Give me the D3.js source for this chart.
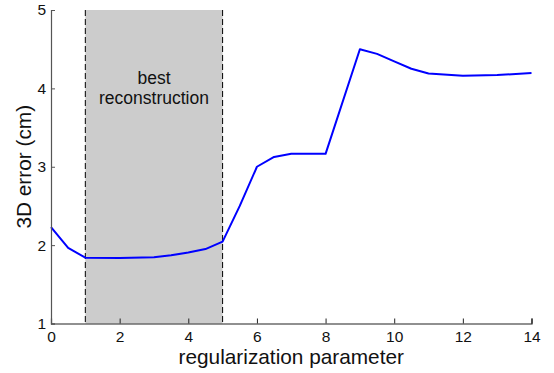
<!DOCTYPE html>
<html>
<head>
<meta charset="utf-8">
<script src="https://cdn.jsdelivr.net/npm/d3@7"></script>
<style>
  body { margin: 0; background: #fff; }
  svg { display: block; font-family: "Liberation Sans", Arial, Helvetica, sans-serif; }
</style>
</head>
<body>
<svg id="chart" width="554" height="373"></svg>
<script>
// Regularization sweep: 3D reconstruction error per parameter value
const params = [0, 0.5, 1, 2, 3, 3.5, 4, 4.5, 5, 5.5, 6, 6.5, 7, 8, 9, 9.5, 10, 10.5, 11, 12, 13, 14];
const errors = [2.23, 1.965, 1.84, 1.837, 1.845, 1.87, 1.905, 1.95, 2.045, 2.5, 3.0, 3.125, 3.165, 3.165, 4.5, 4.44, 4.345, 4.25, 4.19, 4.16, 4.17, 4.195];
const xTicks = [0, 2, 4, 6, 8, 10, 12, 14];
const yTicks = [1, 2, 3, 4, 5];
const bestRange = [1, 5];
const bestLabel = ["best", "reconstruction"];

const FONT = "Liberation Sans, Arial, Helvetica, sans-serif";
const svg = d3.select("#chart");
const x = d3.scaleLinear().domain([0, 14]).range([51, 531.5]);
const y = d3.scaleLinear().domain([1, 5]).range([323.5, 10]);

// shaded band for the best range
svg.append("rect")
  .attr("x", x(bestRange[0])).attr("y", y(5))
  .attr("width", x(bestRange[1]) - x(bestRange[0]))
  .attr("height", y(1) - y(5))
  .attr("fill", "#cccccc");

svg.selectAll("line.bound").data(bestRange).enter().append("line")
  .attr("class", "bound")
  .attr("x1", d => x(d)).attr("x2", d => x(d))
  .attr("y1", y(5)).attr("y2", y(1))
  .attr("stroke", "#000").attr("stroke-width", 1)
  .attr("stroke-dasharray", "6,3");

svg.append("text")
  .attr("text-anchor", "middle")
  .attr("font-size", 17.5).attr("fill", "#111")
  .selectAll("tspan").data(bestLabel).enter().append("tspan")
  .attr("x", x((bestRange[0] + bestRange[1]) / 2))
  .attr("y", (d, i) => 84 + i * 19.5)
  .text(d => d);

// error curve
svg.append("path")
  .datum(params.map((p, i) => [p, errors[i]]))
  .attr("fill", "none")
  .attr("stroke", "#0000ff")
  .attr("stroke-width", 2)
  .attr("stroke-linejoin", "round")
  .attr("d", d3.line().x(d => x(d[0])).y(d => y(d[1])));

// axes with inward ticks
const xAxis = svg.append("g")
  .attr("transform", `translate(0,${y(1)})`)
  .call(d3.axisBottom(x).tickValues(xTicks).tickSize(-5).tickPadding(7).tickFormat(d3.format("d")));
xAxis.select(".domain").attr("stroke", "#222").attr("stroke-width", 1.2);
xAxis.selectAll(".tick line").attr("stroke", "#222");
xAxis.selectAll("text").attr("font-size", 15.5).attr("fill", "#111").attr("font-family", FONT);

const yAxis = svg.append("g")
  .attr("transform", `translate(${x(0)},0)`)
  .call(d3.axisLeft(y).tickValues(yTicks).tickSize(-4).tickPadding(5).tickFormat(d3.format("d")));
yAxis.select(".domain").attr("stroke", "#555").attr("stroke-width", 1.2);
yAxis.selectAll(".tick line").attr("stroke", "#555");
yAxis.selectAll("text").attr("font-size", 15.5).attr("fill", "#111").attr("font-family", FONT);

// axis titles
svg.append("text")
  .attr("x", x(7)).attr("y", 364)
  .attr("text-anchor", "middle")
  .attr("font-size", 20.8).attr("fill", "#111")
  .text("regularization parameter");

svg.append("text")
  .attr("transform", `translate(31,${y(3)}) rotate(-90)`)
  .attr("text-anchor", "middle")
  .attr("font-size", 20.8).attr("fill", "#111")
  .text("3D error (cm)");
</script>
</body>
</html>
